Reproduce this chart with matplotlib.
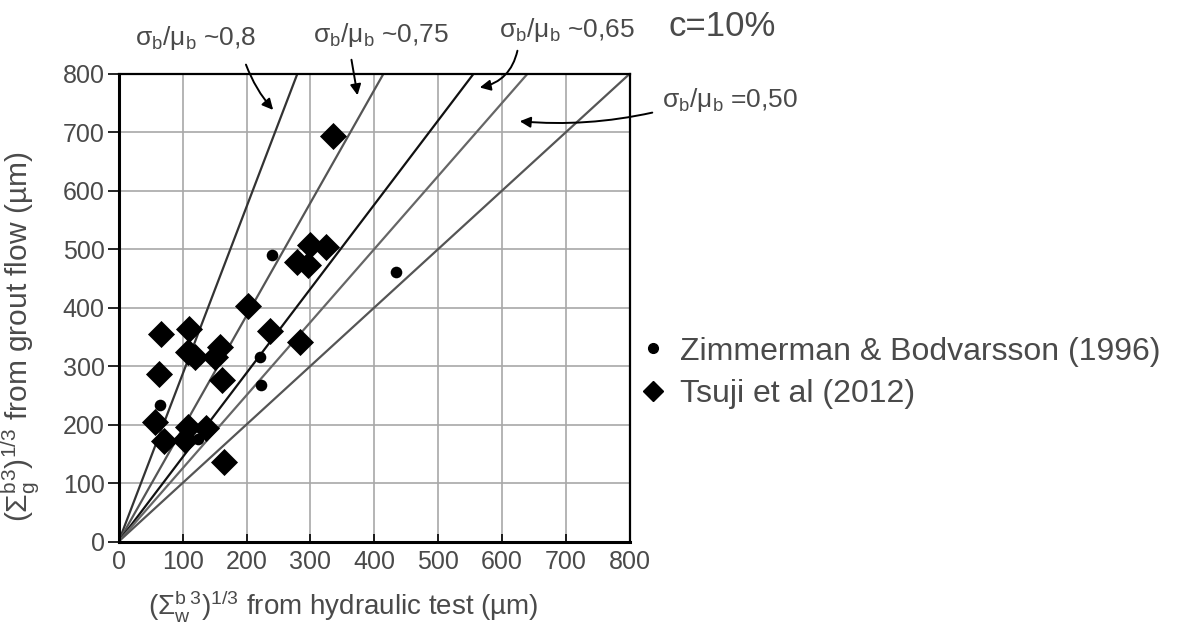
import matplotlib
matplotlib.use("Agg")
import matplotlib.pyplot as plt
from matplotlib.lines import Line2D
from matplotlib.patches import FancyArrowPatch

plt.rcParams['font.family'] = ['Liberation Sans', 'DejaVu Sans']
plt.rcParams['mathtext.fontset'] = 'custom'
plt.rcParams['mathtext.rm'] = 'Liberation Sans'
plt.rcParams['mathtext.it'] = 'Liberation Sans:italic'
plt.rcParams['mathtext.bf'] = 'Liberation Sans:bold'
plt.rcParams['mathtext.default'] = 'regular'

TXT = '#4a4a4a'

# Zimmerman & Bodvarsson (1996)
zb_x = [65, 124, 221, 223, 240, 434]
zb_y = [233, 175, 316, 268, 490, 461]

# Tsuji et al (2012)
ts_x = [67, 110, 109, 119, 150, 158, 63, 161, 57, 71, 109, 104, 137, 165,
        299, 325, 279, 296, 202, 236, 283, 335]
ts_y = [355, 363, 324, 316, 316, 333, 286, 276, 205, 171, 196, 173, 194, 136,
        507, 504, 478, 473, 403, 359, 341, 693]

# reference lines through the origin (slope of y against x)
slopes = [2.86, 1.93, 1.44, 1.25, 1.0]
line_colors = ['#333333', '#555555', '#111111', '#666666', '#555555']

ticks = [0, 100, 200, 300, 400, 500, 600, 700, 800]

W, H = 1182, 623
fig = plt.figure(figsize=(W / 100, H / 100), dpi=100)
ax = fig.add_axes([0.1004, 0.1308, 0.4326, 0.7512])

for k, c in zip(slopes, line_colors):
    ax.plot([0, 800], [0, 800 * k], color=c, lw=1.6, zorder=2)

ax.scatter(ts_x, ts_y, marker='D', s=190, color='black', zorder=3, linewidths=0)
ax.scatter(zb_x, zb_y, marker='o', s=70, color='black', zorder=4, linewidths=0)

ax.set_xlim(0, 800)
ax.set_ylim(0, 800)
ax.set_xticks(ticks)
ax.set_yticks(ticks)
ax.grid(True, color='#a8a8a8', lw=1.2, zorder=0)
ax.set_axisbelow(True)
ax.tick_params(axis='x', direction='in', length=6, width=1.2, labelsize=18,
               labelcolor=TXT, pad=6)
ax.tick_params(axis='y', direction='out', length=8, width=1.2, labelsize=18,
               labelcolor=TXT, pad=2)
for side in ['left', 'bottom']:
    ax.spines[side].set_linewidth(2.2)
for side in ['top', 'right']:
    ax.spines[side].set_linewidth(1.6)

# axis titles
fig.text(343 / W, (H - 606) / H,
         r'$(\Sigma^{b}_{w}{}^{3})^{1/3}$ from hydraulic test (µm)',
         fontsize=20, color=TXT, ha='center', va='center')
fig.text(21 / W, (H - 337) / H,
         r'$(\Sigma^{b}_{g}{}^{3})^{1/3}$ from grout flow (µm)',
         fontsize=21.5, color=TXT, ha='center', va='center', rotation=90)

# ratio labels above the plot with arrows to their lines
fig.text(196 / W, (H - 38) / H, r'$\sigma_b/\mu_b$ ~0,8', fontsize=19,
         color=TXT, ha='center', va='center')
fig.text(381 / W, (H - 35) / H, r'$\sigma_b/\mu_b$ ~0,75', fontsize=19,
         color=TXT, ha='center', va='center')
fig.text(567 / W, (H - 30) / H, r'$\sigma_b/\mu_b$ ~0,65', fontsize=19,
         color=TXT, ha='center', va='center')
fig.text(722 / W, (H - 27) / H, 'c=10%', fontsize=25,
         color=TXT, ha='center', va='center')
fig.text(730 / W, (H - 100) / H, r'$\sigma_b/\mu_b$ =0,50', fontsize=19,
         color=TXT, ha='center', va='center')

arrows = [
    ((245, 62), (275, 112), 0.1),
    ((351, 57), (358, 98), 0.0),
    ((518, 48), (477, 88), -0.35),
    ((655, 112), (517, 121), -0.08),
]
for (x0, y0), (x1, y1), rad in arrows:
    fig.add_artist(FancyArrowPatch(
        (x0, H - y0), (x1, H - y1), transform=None,
        connectionstyle='arc3,rad=%s' % rad, arrowstyle='-|>',
        mutation_scale=16, lw=1.4, color='black'))

handles = [
    Line2D([], [], marker='o', ls='', color='black', markersize=7),
    Line2D([], [], marker='D', ls='', color='black', markersize=10),
]
leg = fig.legend(handles, ['Zimmerman & Bodvarsson (1996)', 'Tsuji et al (2012)'],
                 loc='center left', bbox_to_anchor=(640 / W, (H - 373) / H),
                 frameon=False, fontsize=23, handlelength=0.8,
                 handletextpad=0.44, labelspacing=0.4, borderpad=0,
                 borderaxespad=0)
for t in leg.get_texts():
    t.set_color(TXT)

fig.savefig('out.png', dpi=100)
